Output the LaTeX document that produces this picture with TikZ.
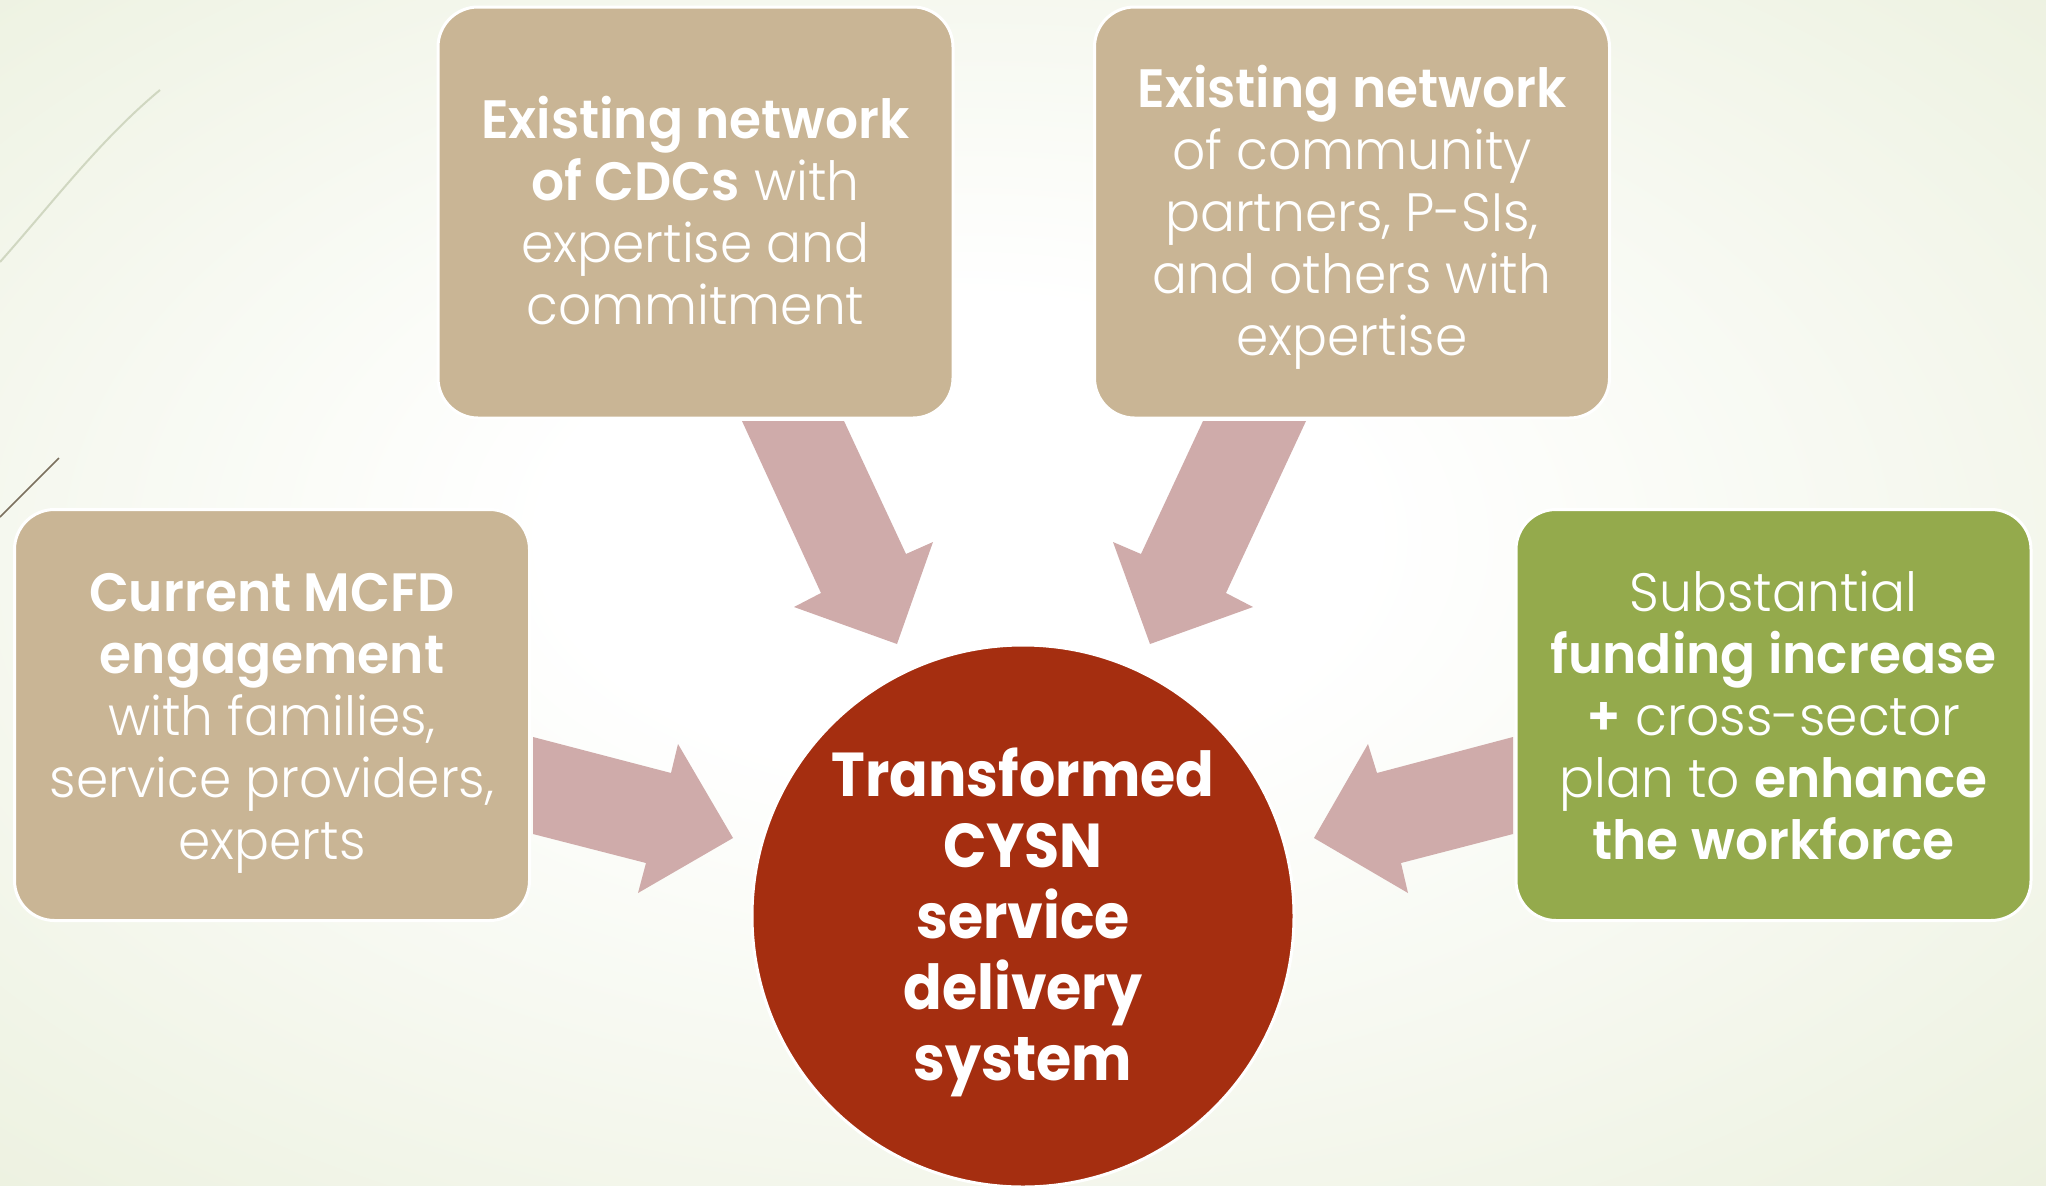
\documentclass[tikz,border=0pt]{standalone}
\usepackage{fontspec}
\setmainfont{Poppins}[UprightFont={* Light}]
\newfontfamily\boxfont{Poppins}[UprightFont={* Light}, FakeStretch=0.96]
\newfontfamily\hubfont{Poppins}[FakeStretch=0.92]
\usetikzlibrary{calc}
\definecolor{tanbox}{HTML}{C9B595}
\definecolor{olivebox}{HTML}{94AA4C}
\definecolor{hubred}{HTML}{A52E10}
\definecolor{arrowpink}{HTML}{CFABAA}
\definecolor{bgedge}{HTML}{E3EAD0}
\definecolor{decolight}{HTML}{D0D7C1}
\definecolor{decodark}{HTML}{7B705E}
\pgfdeclareradialshading{bgshade}{\pgfpoint{-2bp}{3bp}}{color(0bp)=(white); color(10bp)=(white); color(50bp)=(bgedge)}
\tikzset{
  infobox/.style={rectangle, rounded corners=40pt, draw=white, line width=3pt,
    minimum width=515pt, minimum height=411pt, inner sep=0pt},
  tanbox/.style={infobox, fill=tanbox},
  greenbox/.style={infobox, fill=olivebox},
  boxtext/.style={align=center, text=white, inner sep=0pt,
    font=\boxfont\fontsize{54}{62}\selectfont},
  hubnode/.style={circle, draw=white, line width=3pt, fill=hubred, minimum size=542pt, inner sep=0pt},
  hubtext/.style={align=center, text=white, inner sep=0pt,
    font=\hubfont\fontsize{62}{71}\selectfont\bfseries},
  blockarrow/.style={fill=arrowpink, draw=none},
  decoA/.style={draw=decolight, line width=2pt},
  decoB/.style={draw=decodark, line width=1.5pt}
}
\begin{document}
\begin{tikzpicture}[x=1pt,y=-1pt]
\useasboundingbox (0,0) rectangle (2046,1186);
\shade[shading=bgshade] (0,0) rectangle (2046,1186);
\draw[decoA] (0,262) .. controls (55,200) and (100,140) .. (160,90);
\draw[decoB] (0,517) -- (30,487) -- (59,458);

\node[tanbox] (cdc) at (695.5,212.5) {};
\node[tanbox] (partners) at (1352,212.5) {};
\node[tanbox] (mcfd) at (272,715) {};
\node[greenbox] (funding) at (1773.5,715) {};
\node[hubnode] (hub) at (1023,916) {};

\node[boxtext] (cdc-text) at ($(cdc.center)+(0,-2)$) {\textbf{Existing network}\\\textbf{of CDCs} with\\expertise and\\commitment};
\node[boxtext] (partners-text) at ($(partners.center)+(0,5)$) {\textbf{Existing network}\\of community\\partners, P-SIs,\\and others with\\expertise};
\node[boxtext] (mcfd-text) at ($(mcfd.center)+(0,8)$) {\textbf{Current MCFD}\\\textbf{engagement}\\with families,\\service providers,\\experts};
\node[boxtext] (funding-text) at (funding.center) {Substantial\\\textbf{funding increase}\\\textbf{+} cross-sector\\plan to \textbf{enhance}\\\textbf{the workforce}};
\node[hubtext] (hub-text) at ($(hub.center)+(0,6)$) {Transformed\\CYSN\\service\\delivery\\system};

% block arrows
\fill[blockarrow] (742,421) -- (844,421) -- (906,554) -- (933,542) -- (897,644) -- (794,607) -- (821,593) -- cycle;
\fill[blockarrow] (1306,421) -- (1203,421) -- (1141,554) -- (1113,542) -- (1150,644) -- (1253,607) -- (1226,593) -- cycle;
\fill[blockarrow] (533,737) -- (671,773) -- (678,744) -- (733,838) -- (638,893) -- (646,863) -- (533,834) -- cycle;
\fill[blockarrow] (1513,737) -- (1377,773) -- (1368,744) -- (1314,838) -- (1408,893) -- (1401,863) -- (1513,834) -- cycle;
\end{tikzpicture}
\end{document}
